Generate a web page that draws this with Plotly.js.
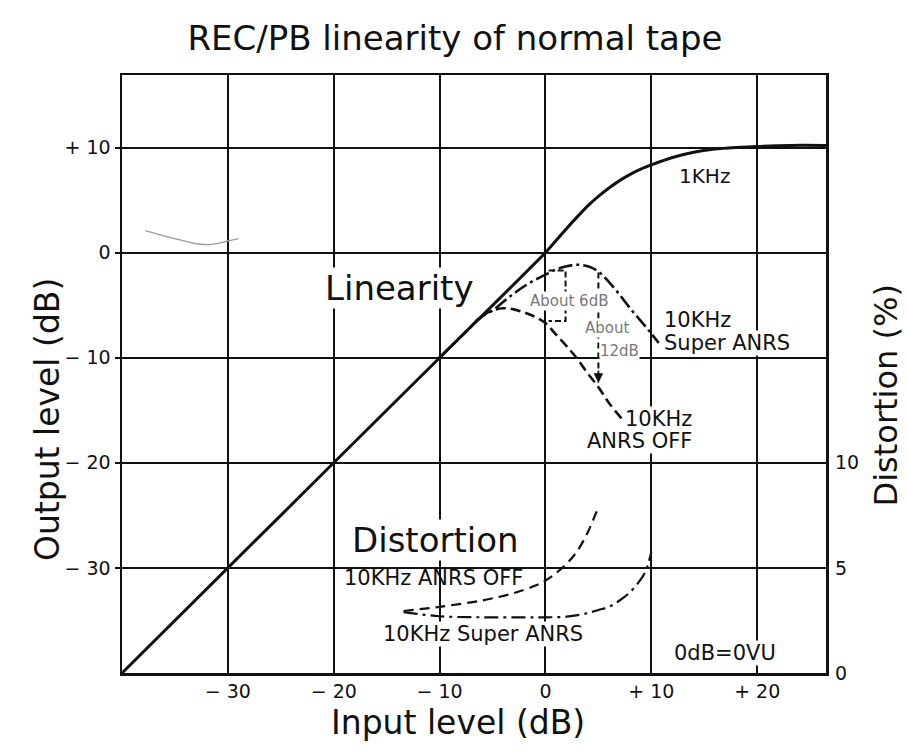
<!DOCTYPE html>
<html>
<head>
<meta charset="utf-8">
<script src="https://cdn.plot.ly/plotly-3.0.1.min.js"></script>
<style>html,body{margin:0;padding:0;background:#fff;}</style>
</head>
<body>
<div id="chart" style="width:908px;height:753px;"></div>
<script>
// ---- data ----
// 1 kHz REC/PB linearity (dB in -> dB out)
const khz1In  = [-40, -30, -20, -10, 0, 1, 2, 3, 4, 5, 6, 7, 8, 9, 10, 12, 14, 16, 18, 20, 23, 26.5];
const khz1Out = [-40, -30, -20, -10, 0, 1.15, 2.3, 3.4, 4.45, 5.35, 6.15, 6.85, 7.45, 7.95, 8.35, 9.05, 9.55, 9.85, 10.0, 10.1, 10.2, 10.2];
// 10 kHz Super ANRS linearity
const superIn  = [-10, -8, -6, -5, -4, -3, -2, -1, 0, 1, 2, 3, 4, 5, 6, 7, 8, 9, 10, 10.7];
const superOut = [-10, -8, -6.1, -5.5, -4.7, -3.9, -3.2, -2.6, -2.1, -1.6, -1.3, -1.15, -1.3, -1.8, -2.8, -4.0, -5.3, -6.5, -7.7, -8.6];
// 10 kHz ANRS OFF linearity
const offIn  = [-10, -8, -7, -6, -5, -4, -3, -2, -1, 0, 1, 2, 3, 4, 5, 6, 7.2];
const offOut = [-10, -8, -7, -6, -5.5, -5.3, -5.4, -5.7, -6.1, -6.7, -7.8, -8.9, -10.1, -11.5, -12.8, -14.3, -15.8];
// Distortion (%) on right axis
const distOffIn  = [-13.4, -10, -6, -3, -1, 0, 1, 2, 3, 4, 5];
const distOffPct = [2.95, 3.15, 3.45, 3.8, 4.15, 4.4, 4.75, 5.2, 5.8, 6.7, 7.9];
const distSupIn  = [-13.4, -10, -6, -2, 0, 2, 4, 5, 6, 7, 8, 9, 9.5, 10];
const distSupPct = [2.9, 2.7, 2.65, 2.65, 2.65, 2.68, 2.85, 3.0, 3.15, 3.45, 3.85, 4.45, 4.9, 5.75];
// "About 6dB" / "About 12dB" brackets
const bracket6x  = [0.3, 1.9, 1.9, 0.3];
const bracket6y  = [-1.7, -1.7, -6.5, -6.5];
const bracket12x = [5, 5];
const bracket12y = [-1.9, -12.4];
// faint grey stroke at upper left
const greyX = [-37.8, -35.5, -32.9, -31.7, -30.1, -29.0];
const greyY = [2.1, 1.46, 0.83, 0.76, 1.08, 1.33];
// ticks
const xTickVals = [-30, -20, -10, 0, 10, 20];
const xTickText = ['\u2212 30', '\u2212 20', '\u2212 10', '0', '+ 10', '+ 20'];
const yTickVals = [-30, -20, -10, 0, 10];
const yTickText = ['\u2212 30', '\u2212 20', '\u2212 10', '0', '+ 10'];
const y2TickVals = [0, 5, 10];
const y2TickText = ['0', '5', '10'];

const F = 'DejaVu Sans, Liberation Sans, sans-serif';
const INK = '#111';

const traces = [
  {x: greyX, y: greyY, mode: 'lines', line: {color: '#9a9a9a', width: 1.3, shape: 'spline'}, hoverinfo: 'skip'},
  {x: khz1In, y: khz1Out, mode: 'lines', line: {color: INK, width: 3, shape: 'spline', smoothing: 0.6}, name: '1KHz'},
  {x: superIn, y: superOut, mode: 'lines', line: {color: INK, width: 2.6, dash: '14px,4px,3px,4px', shape: 'spline'}, name: '10KHz Super ANRS'},
  {x: offIn, y: offOut, mode: 'lines', line: {color: INK, width: 2.6, dash: '10px,5px', shape: 'spline'}, name: '10KHz ANRS OFF'},
  {x: bracket6x, y: bracket6y, mode: 'lines', line: {color: INK, width: 2, dash: '6px,3px'}, hoverinfo: 'skip'},
  {x: bracket12x, y: bracket12y, mode: 'lines', line: {color: INK, width: 2, dash: '6px,4px'}, hoverinfo: 'skip'},
  {x: distOffIn, y: distOffPct, yaxis: 'y2', mode: 'lines', line: {color: INK, width: 2.2, dash: '10px,6px', shape: 'spline'}, name: 'Dist ANRS OFF'},
  {x: distSupIn, y: distSupPct, yaxis: 'y2', mode: 'lines', line: {color: INK, width: 2.2, dash: '14px,5px,3px,5px', shape: 'spline'}, name: 'Dist Super ANRS'}
];

function lab(text, x, y, size, opts) {
  return Object.assign({text: text, x: x, y: y, xref: 'x', yref: 'y', showarrow: false,
    font: {family: F, size: size, color: INK}, bgcolor: '#fff', borderpad: 0,
    xanchor: 'center', yanchor: 'middle'}, opts || {});
}

const annotations = [
  lab('1KHz', 15.04, 7.33, 20, {bgcolor: 'rgba(0,0,0,0)'}),
  lab('Linearity', -13.77, -3.33, 34),
  lab('About 6dB', 2.22, -4.57, 15, {font: {family: F, size: 15, color: '#777'}}),
  lab('About', 5.82, -7.19, 15, {font: {family: F, size: 15, color: '#777'}}),
  lab('12dB', 7.0, -9.38, 15, {font: {family: F, size: 15, color: '#777'}}),
  lab('10KHz', 11.12, -6.44, 21, {xanchor: 'left'}),
  lab('Super ANRS', 11.12, -8.63, 21, {xanchor: 'left'}),
  lab('10KHz', 13.95, -15.87, 21, {xanchor: 'right'}),
  lab('ANRS OFF', 13.95, -17.95, 21, {xanchor: 'right'}),
  lab('Distortion', -10.36, -27.38, 34),
  lab('10KHz ANRS OFF', -10.55, -30.95, 21, {bgcolor: 'rgba(0,0,0,0)'}),
  lab('10KHz Super ANRS', -5.91, -36.25, 21),
  lab('0dB=0VU', 16.93, -38.06, 21),
  // arrow head of the 12dB bracket
  {x: bracket12x[1], y: bracket12y[1], xref: 'x', yref: 'y', ax: 0, ay: -14, text: '', showarrow: true,
   arrowhead: 2, arrowsize: 1.2, arrowwidth: 1.6, arrowcolor: INK},
  // axis titles
  {text: 'Output level (dB)', xref: 'paper', yref: 'paper', x: -0.1065, y: 0.423, textangle: -90,
   showarrow: false, font: {family: F, size: 33, color: INK}, xanchor: 'center', yanchor: 'middle'},
  {text: 'Input level (dB)', xref: 'paper', yref: 'paper', x: 0.477, y: -0.082,
   showarrow: false, font: {family: F, size: 33, color: INK}, xanchor: 'center', yanchor: 'middle'},
  {text: 'Distortion (%)', xref: 'paper', yref: 'paper', x: 1.0845, y: 0.465, textangle: -90,
   showarrow: false, font: {family: F, size: 32, color: INK}, xanchor: 'center', yanchor: 'middle'}
];

const axisCommon = {
  showgrid: true, gridcolor: INK, gridwidth: 2, zeroline: false,
  showline: true, linecolor: INK, linewidth: 2.5, mirror: true,
  tickfont: {family: F, size: 19, color: INK}, fixedrange: true
};

const layout = {
  width: 908, height: 753,
  margin: {l: 122, r: 82, t: 75, b: 80, pad: 0},
  paper_bgcolor: '#fff', plot_bgcolor: '#fff',
  showlegend: false,
  title: {text: 'REC/PB linearity of normal tape', font: {family: F, size: 34, color: INK},
          xref: 'container', yref: 'container', x: 0.501, y: 0.9495, xanchor: 'center', yanchor: 'middle'},
  xaxis: Object.assign({}, axisCommon, {range: [-40, 26.5], tickmode: 'array', tickvals: xTickVals, ticktext: xTickText, ticks: ''}),
  yaxis: Object.assign({}, axisCommon, {range: [-40, 16.9], tickmode: 'array', tickvals: yTickVals, ticktext: yTickText,
          ticks: 'outside', ticklen: 5, tickwidth: 2, tickcolor: INK}),
  yaxis2: {overlaying: 'y', side: 'right', range: [0, 28.45], tickmode: 'array', tickvals: y2TickVals, ticktext: y2TickText,
           showgrid: false, zeroline: false, showline: false, ticks: '', ticklabelstandoff: 8,
           tickfont: {family: F, size: 19, color: INK}, fixedrange: true},
  annotations: annotations
};

Plotly.newPlot('chart', traces, layout, {staticPlot: true, displayModeBar: false});
</script>
</body>
</html>
